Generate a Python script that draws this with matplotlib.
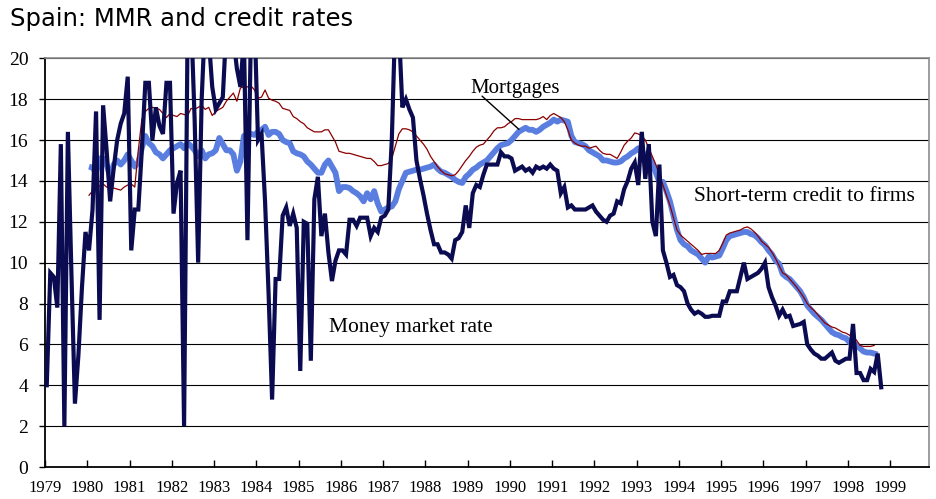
import numpy as np
import matplotlib
matplotlib.use("Agg")
import matplotlib.pyplot as plt

# ---------------- data (monthly, %) ----------------
mmr_start = (1979, 1)
mmr = [
    4.0, 9.5, 9.3, 7.8, 15.8, 2.0, 16.4, 9.5, 3.1, 5.5, 8.8, 11.5,            # 1979
    10.6, 12.6, 17.4, 7.2, 17.7, 15.5, 13.0, 14.6, 16.0, 16.8, 17.3, 19.1,    # 1980
    10.6, 12.6, 12.6, 15.5, 18.8, 18.8, 16.0, 17.6, 16.7, 16.3, 18.8, 18.8,   # 1981
    12.4, 13.9, 14.5, 2.0, 21.5, 22.0, 17.0, 10.0, 18.0, 22.0, 21.0, 18.6,    # 1982
    17.5, 17.8, 18.1, 21.5, 22.0, 21.0, 19.5, 18.6, 21.0, 11.1, 21.5, 22.0,   # 1983
    16.0, 16.3, 13.0, 8.5, 3.3, 9.2, 9.2, 12.3, 12.7, 11.8, 12.4, 11.7,       # 1984
    4.7, 12.0, 11.9, 5.2, 13.1, 14.2, 11.3, 12.4, 10.5, 9.1, 10.1, 10.6,      # 1985
    10.6, 10.4, 12.1, 12.1, 11.8, 12.2, 12.2, 12.2, 11.3, 11.7, 11.5, 12.2,   # 1986
    12.3, 12.6, 16.0, 22.0, 21.5, 17.6, 18.0, 17.5, 17.1, 15.0, 14.1, 13.3,   # 1987
    12.4, 11.6, 10.9, 10.9, 10.5, 10.5, 10.4, 10.2, 11.1, 11.2, 11.5, 12.8,   # 1988
    11.7, 13.4, 13.8, 13.7, 14.3, 14.8, 14.8, 14.8, 14.8, 15.4, 15.2, 15.2,   # 1989
    15.1, 14.5, 14.6, 14.7, 14.5, 14.6, 14.4, 14.7, 14.6, 14.7, 14.6, 14.8,   # 1990
    14.6, 14.5, 13.4, 13.7, 12.7, 12.8, 12.6, 12.6, 12.6, 12.6, 12.7, 12.8,   # 1991
    12.5, 12.3, 12.1, 12.0, 12.3, 12.4, 13.0, 12.9, 13.6, 14.0, 14.6, 14.9,   # 1992
    13.8, 16.4, 14.1, 15.8, 12.0, 11.3, 14.8, 10.6, 10.0, 9.3, 9.4, 8.9,      # 1993
    8.8, 8.6, 8.0, 7.7, 7.5, 7.6, 7.5, 7.35, 7.35, 7.4, 7.4, 7.4,             # 1994
    8.1, 8.1, 8.6, 8.6, 8.6, 9.3, 10.0, 9.2, 9.3, 9.4, 9.5, 9.7,              # 1995
    10.0, 8.8, 8.3, 7.9, 7.4, 7.7, 7.35, 7.4, 6.9, 6.95, 7.0, 7.1,            # 1996
    6.0, 5.75, 5.55, 5.45, 5.3, 5.3, 5.45, 5.6, 5.2, 5.1, 5.2, 5.3,           # 1997
    5.3, 7.0, 4.6, 4.6, 4.25, 4.25, 4.8, 4.65, 5.55, 3.9,                     # 1998
]

credit_start = (1980, 1)
credit = [
    14.7, 14.65, 14.4, 15.1, 15.1, 14.8, 14.2, 14.8, 15.0, 14.8, 15.0, 15.3,      # 1980
    15.0, 14.7, 14.9, 15.6, 16.2, 15.85, 15.7, 15.4, 15.3, 15.1, 15.3, 15.5,      # 1981
    15.6, 15.7, 15.8, 15.6, 15.85, 15.7, 15.5, 15.2, 15.5, 15.1, 15.3, 15.35,     # 1982
    15.5, 16.1, 15.8, 15.5, 15.5, 15.3, 14.5, 14.95, 16.2, 16.3, 16.3, 16.25,     # 1983
    16.4, 16.5, 16.65, 16.25, 16.4, 16.4, 16.3, 16.0, 15.9, 15.85, 15.45, 15.35,  # 1984
    15.3, 15.2, 14.95, 14.8, 14.6, 14.4, 14.4, 14.8, 15.0, 14.7, 14.4, 13.5,      # 1985
    13.7, 13.7, 13.65, 13.5, 13.4, 13.25, 13.0, 13.4, 13.1, 13.5, 12.9, 12.5,     # 1986
    12.6, 12.7, 12.75, 13.0, 13.6, 14.0, 14.4, 14.45, 14.5, 14.55, 14.55, 14.6,   # 1987
    14.65, 14.7, 14.8, 14.6, 14.45, 14.4, 14.3, 14.2, 14.05, 13.95, 13.9, 14.2,   # 1988
    14.35, 14.55, 14.65, 14.8, 14.9, 15.0, 15.2, 15.4, 15.6, 15.75, 15.8, 15.85,  # 1989
    16.0, 16.2, 16.4, 16.5, 16.6, 16.5, 16.5, 16.4, 16.5, 16.65, 16.75, 16.85,    # 1990
    17.0, 16.9, 17.0, 16.95, 16.9, 16.2, 15.9, 15.85, 15.8, 15.7, 15.5, 15.4,     # 1991
    15.3, 15.2, 15.0, 15.0, 14.95, 14.9, 14.9, 14.95, 15.1, 15.2, 15.35, 15.45,   # 1992
    15.6, 15.35, 15.3, 15.2, 14.85, 14.4, 13.95, 13.95, 13.5, 13.0, 12.3, 11.6,   # 1993
    11.1, 10.9, 10.8, 10.6, 10.5, 10.4, 10.2, 10.0, 10.3, 10.25, 10.3, 10.35,     # 1994
    10.7, 11.1, 11.3, 11.35, 11.4, 11.45, 11.5, 11.5, 11.4, 11.35, 11.2, 11.0,    # 1995
    10.85, 10.6, 10.4, 10.1, 9.95, 9.45, 9.3, 9.2, 9.0, 8.8, 8.6, 8.3,            # 1996
    7.9, 7.7, 7.5, 7.35, 7.2, 7.0, 6.8, 6.6, 6.5, 6.45, 6.35, 6.3,                # 1997
    6.1, 6.05, 5.95, 5.8, 5.65, 5.6, 5.6, 5.55, 5.5,                              # 1998
]

mortgage_start = (1980, 1)
mortgage = [
    13.3, 13.5, 13.65, 13.75, 13.85, 13.7, 13.65, 13.65, 13.6, 13.55, 13.7, 13.8,    # 1980
    13.85, 13.7, 15.5, 17.0, 17.4, 17.55, 17.6, 17.55, 17.5, 17.3, 17.1, 17.3,       # 1981
    17.2, 17.15, 17.3, 17.25, 17.2, 17.55, 17.5, 17.6, 17.7, 17.5, 17.6, 17.2,       # 1982
    17.4, 17.5, 17.6, 17.9, 18.1, 18.3, 17.9, 18.55, 18.6, 18.6, 18.65, 18.45,       # 1983
    18.05, 18.1, 18.45, 18.05, 17.95, 17.9, 17.8, 17.55, 17.5, 17.45, 17.15, 17.05,  # 1984
    16.9, 16.8, 16.6, 16.5, 16.4, 16.4, 16.4, 16.5, 16.5, 16.2, 15.9, 15.45,         # 1985
    15.4, 15.35, 15.35, 15.3, 15.25, 15.2, 15.15, 15.1, 15.1, 14.95, 14.75, 14.75,   # 1986
    14.8, 14.85, 15.1, 15.7, 16.3, 16.55, 16.55, 16.5, 16.4, 16.2, 16.0, 15.8,       # 1987
    15.55, 15.2, 14.95, 14.7, 14.5, 14.35, 14.3, 14.25, 14.3, 14.5, 14.75, 15.0,     # 1988
    15.2, 15.45, 15.65, 15.75, 15.8, 16.0, 16.2, 16.45, 16.6, 16.6, 16.65, 16.8,     # 1989
    16.9, 17.05, 17.05, 17.0, 17.0, 17.0, 17.0, 17.0, 17.05, 17.15, 17.0, 17.2,      # 1990
    17.3, 17.2, 17.1, 16.9, 16.5, 16.0, 15.85, 15.75, 15.7, 15.7, 15.6, 15.65,       # 1991
    15.7, 15.5, 15.35, 15.3, 15.3, 15.2, 15.1, 15.4, 15.75, 15.95, 16.1, 16.35,      # 1992
    16.3, 16.2, 16.0, 15.6, 15.2, 14.8, 14.3, 13.8, 13.3, 12.8, 12.2, 11.6,          # 1993
    11.35, 11.2, 11.05, 10.9, 10.75, 10.6, 10.4, 10.45, 10.45, 10.45, 10.45, 10.6,   # 1994
    10.95, 11.35, 11.45, 11.5, 11.55, 11.6, 11.7, 11.75, 11.65, 11.5, 11.3, 11.05,   # 1995
    10.9, 10.75, 10.5, 10.2, 9.85, 9.5, 9.4, 9.2, 9.0, 8.8, 8.55, 8.3,               # 1996
    8.0, 7.8, 7.65, 7.45, 7.25, 7.05, 6.95, 6.85, 6.8, 6.7, 6.6, 6.55,               # 1997
    6.45, 6.35, 6.2, 5.95, 5.9, 5.9, 5.9, 5.95,                                      # 1998
]

year_labels = [str(y) for y in range(1979, 2000)]
y_ticks = list(range(0, 21, 2))

title = "Spain: MMR and credit rates"
label_mortgage = "Mortgages"
label_credit = "Short-term credit to firms"
label_mmr = "Money market rate"


def month_positions(start, n):
    y0, m0 = start
    return y0 + (m0 - 1 + np.arange(n) + 0.5) / 12.0


# ---------------- figure ----------------
fig = plt.figure(figsize=(9.37, 4.99), dpi=100)
ax = fig.add_axes([45 / 937, 1 - 467 / 499, (929 - 45) / 937, (467 - 58.3) / 499])

serif = "Liberation Serif"

ax.set_xlim(1979, 1979 + (929 - 45) / 42.25)
ax.set_ylim(0, 20)

for v in y_ticks[1:]:
    ax.axhline(v, color="black", lw=0.8, zorder=1)

ax.plot(month_positions(credit_start, len(credit)), credit,
        color="#5a7ee0", lw=4.2, solid_capstyle="butt", zorder=3)
ax.plot(month_positions(mortgage_start, len(mortgage)), mortgage,
        color="#8b0000", lw=0.9, zorder=4)
ax.plot(month_positions(mmr_start, len(mmr)), mmr,
        color="#0b0b52", lw=3.0, solid_joinstyle="miter", zorder=5)

ax.set_yticks(y_ticks)
ax.set_yticklabels([str(v) for v in y_ticks], fontfamily=serif, fontsize=14)
ax.set_xticks(range(1979, 2000))
ax.set_xticklabels(year_labels, fontfamily=serif, fontsize=12)
ax.tick_params(axis="x", direction="in", length=5, width=1, pad=9.5, color="black")
ax.tick_params(axis="y", direction="out", length=4, width=1, pad=8, color="black")

for s in ["left", "bottom"]:
    ax.spines[s].set_color("black")
    ax.spines[s].set_linewidth(1.3)
for s in ["top", "right"]:
    ax.spines[s].set_color("#8c8c8c")
    ax.spines[s].set_linewidth(1.2)

# annotations
ax.text(1979 + (470 - 45) / 42.25, (467 - 88) / 20.45, label_mortgage,
        fontfamily=serif, fontsize=15, va="center", ha="left", zorder=6)
ax.annotate("", xy=(1979 + (521 - 45) / 42.25, (467 - 131) / 20.45),
            xytext=(1979 + (480 - 45) / 42.25, (467 - 94) / 20.45),
            arrowprops=dict(arrowstyle="-", color="black", lw=1.0), zorder=6)
ax.text(1979 + (694 - 45) / 42.25, (467 - 196) / 20.45, label_credit,
        fontfamily=serif, fontsize=15.5, va="center", ha="left", zorder=6)
ax.text(1979 + (329 - 45) / 42.25, (467 - 327) / 20.45, label_mmr,
        fontfamily=serif, fontsize=15.5, va="center", ha="left", zorder=6)

fig.text(10 / 937, 1 - 19 / 499, title, fontfamily="DejaVu Sans", fontsize=17.5,
         va="center", ha="left")

fig.savefig("out.png", dpi=100)
